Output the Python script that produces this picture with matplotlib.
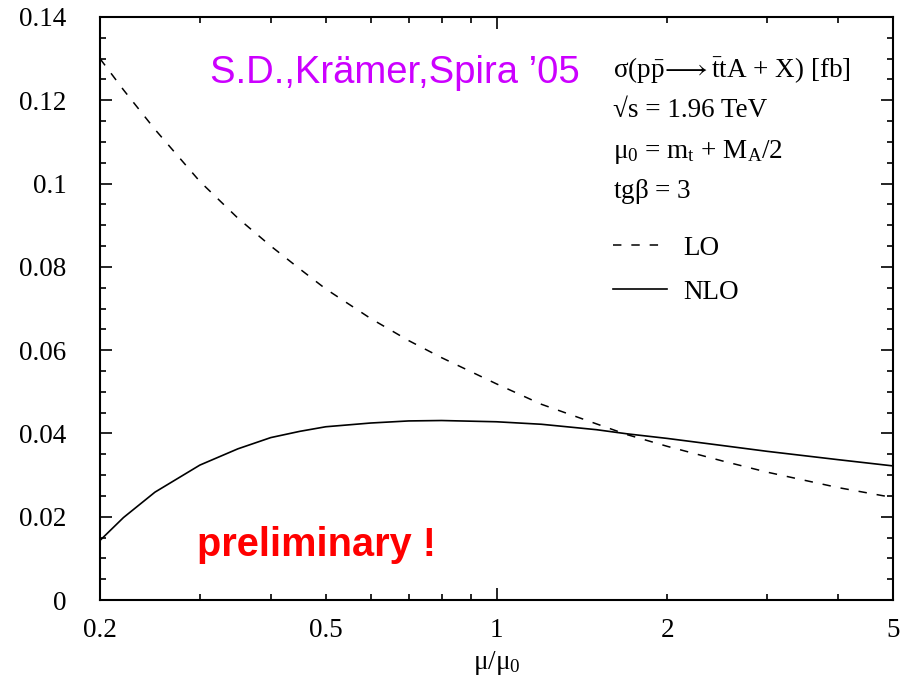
import matplotlib
matplotlib.use("Agg")
import matplotlib.pyplot as plt
from matplotlib.ticker import FixedLocator, FixedFormatter

mu = [0.2, 0.22, 0.25, 0.3, 0.35, 0.4, 0.45, 0.5, 0.6, 0.7, 0.8, 1.0, 1.2, 1.5, 1.7, 2.0, 2.5, 3.0, 4.0, 5.0]
lo = [0.130, 0.1225, 0.1130, 0.1005, 0.0917, 0.0850, 0.0795, 0.0747, 0.0676, 0.0623, 0.0582,
      0.0519, 0.0470, 0.0423, 0.0397, 0.0369, 0.0334, 0.0307, 0.0270, 0.0246]
nlo = [0.0143, 0.0198, 0.0259, 0.0324, 0.0363, 0.0390, 0.0405, 0.0416, 0.0425, 0.0430, 0.0431,
       0.0428, 0.0422, 0.0409, 0.0399, 0.0388, 0.0371, 0.0357, 0.0337, 0.0322]

yticks = [0, 0.02, 0.04, 0.06, 0.08, 0.1, 0.12, 0.14]
ytick_labels = ["0", "0.02", "0.04", "0.06", "0.08", "0.1", "0.12", "0.14"]
xminor = [0.2, 0.3, 0.4, 0.5, 0.6, 0.7, 0.8, 0.9, 2, 3, 4, 5]
xminor_labels = ["0.2", "", "", "0.5", "", "", "", "", "2", "", "", "5"]

plt.rcParams['font.family'] = ['Liberation Serif', 'DejaVu Serif']
plt.rcParams['mathtext.fontset'] = 'custom'
plt.rcParams['mathtext.rm'] = 'Liberation Serif'
plt.rcParams['mathtext.it'] = 'Liberation Serif'
plt.rcParams['mathtext.bf'] = 'Liberation Serif:bold'

FS = 19.5

fig = plt.figure(figsize=(9.1, 6.83), dpi=100)
ax = fig.add_axes([100/910, 83/683, 793/910, 583/683])

ax.plot(mu, lo, color='black', lw=1.1, linestyle=(0, (5.5, 6.5)), label='LO')
ax.plot(mu, nlo, color='black', lw=1.2, label='NLO')

ax.set_xscale('log')
ax.set_xlim(0.2, 5)
ax.set_ylim(0, 0.14)

ax.xaxis.set_major_locator(FixedLocator([1]))
ax.xaxis.set_major_formatter(FixedFormatter(["1"]))
ax.xaxis.set_minor_locator(FixedLocator(xminor))
ax.xaxis.set_minor_formatter(FixedFormatter(xminor_labels))

ax.yaxis.set_major_locator(FixedLocator(yticks))
ax.yaxis.set_major_formatter(FixedFormatter(ytick_labels))
ax.yaxis.set_minor_locator(FixedLocator([i * 0.005 for i in range(29)]))

ax.tick_params(which='both', direction='in', top=True, right=True, width=1.2, labelsize=FS)
ax.tick_params(which='major', length=8.5)
ax.tick_params(which='minor', length=4.5)
ax.tick_params(axis='x', which='both', pad=13)
ax.tick_params(axis='y', which='both', pad=24)
for s in ax.spines.values():
    s.set_linewidth(1.5)

ax.set_xlabel(r'$\mu/\mu_0$', fontsize=FS, labelpad=4)

ax.text(0.139, 0.886, "S.D.,Krämer,Spira \u201905", transform=ax.transAxes, fontsize=27.5,
        family='Liberation Sans', color='#CC00FF', va='baseline')
ax.text(0.122, 0.076, "preliminary !", transform=ax.transAxes, fontsize=28.6,
        family='Liberation Sans', fontweight='bold', color='#FF0000', va='baseline')

tx = (613 - 100) / 793
ax.text(tx, 0.895, r'$\sigma$(p$\bar{\rm p}\!\longrightarrow\bar{\rm t}$tA + X) [fb]',
        transform=ax.transAxes, fontsize=FS, va='baseline')
ax.text(tx, 0.828, '\u221As = 1.96 TeV', transform=ax.transAxes, fontsize=FS, va='baseline')
ax.text(tx, 0.758, r'$\mu_0$ = m$_{\rm t}$ + M$_{\rm A}$/2', transform=ax.transAxes,
        fontsize=FS, va='baseline')
ax.text(tx, 0.690, r'tg$\beta$ = 3', transform=ax.transAxes, fontsize=FS, va='baseline')

ax.legend(loc='upper left', bbox_to_anchor=(tx, 0.625), frameon=False,
          fontsize=FS, handlelength=2.0, handletextpad=0.6, labelspacing=0.7,
          borderaxespad=0, borderpad=0)

fig.savefig('out.png', dpi=100)
